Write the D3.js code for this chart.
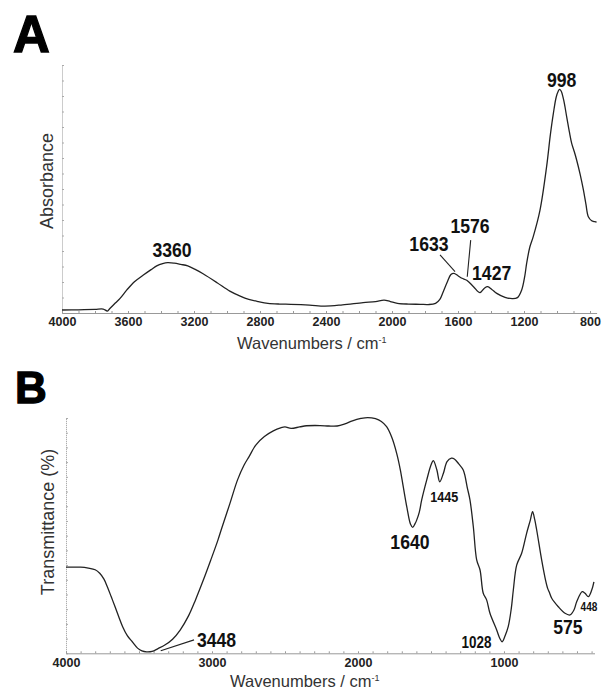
<!DOCTYPE html>
<html>
<head>
<meta charset="utf-8">
<script src="https://cdn.jsdelivr.net/npm/d3@7"></script>
<style>
  body { margin: 0; background: #fff; }
</style>
</head>
<body>
<svg id="chart" width="605" height="689"></svg>
<script>
// A: absorbance spectrum (wavenumber, relative absorbance)
const wnA = [4000, 3900, 3800, 3750, 3725, 3710, 3677, 3648, 3607, 3561, 3507, 3460, 3426, 3390, 3360,
  3320, 3280, 3238, 3190, 3145, 3060, 2983, 2920, 2868, 2810, 2752, 2680, 2614, 2500, 2406, 2300,
  2175, 2100, 2048, 2010, 1967, 1900, 1828, 1780, 1736, 1710, 1690, 1665, 1643, 1625, 1600, 1576,
  1547, 1506, 1467, 1440, 1420, 1395, 1365, 1315, 1270, 1240, 1214, 1195, 1184, 1165, 1144, 1103,
  1063, 1040, 1022, 1005, 992, 985, 975, 960, 941, 925, 911, 895, 881, 860, 840, 825, 810, 790, 770, 760];
const absA = [0.012, 0.013, 0.015, 0.016, 0.008, 0.018, 0.040, 0.059, 0.093, 0.126, 0.153, 0.175, 0.190, 0.199, 0.203,
  0.201, 0.196, 0.190, 0.175, 0.158, 0.122, 0.088, 0.068, 0.055, 0.046, 0.039, 0.036, 0.035, 0.032, 0.028, 0.033,
  0.042, 0.046, 0.052, 0.046, 0.039, 0.036, 0.035, 0.034, 0.039, 0.055, 0.085, 0.125, 0.155, 0.160, 0.150, 0.140,
  0.132, 0.106, 0.082, 0.100, 0.106, 0.095, 0.079, 0.063, 0.058, 0.062, 0.093, 0.150, 0.200, 0.265, 0.308, 0.415,
  0.590, 0.720, 0.805, 0.870, 0.895, 0.902, 0.895, 0.860, 0.790, 0.730, 0.684, 0.650, 0.617, 0.560, 0.496, 0.440, 0.388, 0.372, 0.368, 0.366];
const ticksA = [4000, 3600, 3200, 2800, 2400, 2000, 1600, 1200, 800];
const peaksA = ["3360", "1633", "1576", "1427", "998"];

// B: transmittance spectrum (wavenumber, relative transmittance)
const wnB = [4000, 3900, 3847, 3800, 3769, 3740, 3717, 3690, 3664, 3612, 3580, 3546, 3510, 3480, 3448,
  3410, 3370, 3323, 3270, 3218, 3160, 3113, 3060, 3008, 2960, 2930, 2877, 2825, 2780, 2746, 2700,
  2641, 2580, 2530, 2500, 2458, 2400, 2353, 2260, 2200, 2143, 2090, 2038, 1980, 1933, 1880, 1840,
  1804, 1770, 1735, 1710, 1690, 1665, 1640, 1625, 1610, 1598, 1580, 1564, 1529, 1500, 1484, 1460,
  1440, 1415, 1390, 1360, 1340, 1310, 1279, 1250, 1233, 1210, 1187, 1164, 1142, 1119, 1096, 1050,
  1030, 1012, 995, 971, 950, 936, 913, 879, 845, 820, 804, 790, 776, 742, 715, 701, 690, 673, 628,
  582, 548, 520, 502, 464, 445, 422, 399, 384];
const trB = [0.366, 0.366, 0.362, 0.355, 0.340, 0.315, 0.283, 0.240, 0.198, 0.113, 0.075, 0.049, 0.022, 0.010, 0.006,
  0.008, 0.020, 0.035, 0.060, 0.099, 0.160, 0.227, 0.310, 0.397, 0.480, 0.538, 0.637, 0.737, 0.800, 0.836, 0.885,
  0.921, 0.945, 0.958, 0.962, 0.956, 0.962, 0.967, 0.968, 0.966, 0.966, 0.975, 0.988, 0.998, 1.002, 0.997, 0.985,
  0.963, 0.920, 0.850, 0.780, 0.708, 0.620, 0.548, 0.535, 0.550, 0.566, 0.600, 0.651, 0.737, 0.800, 0.819, 0.780,
  0.729, 0.765, 0.815, 0.829, 0.826, 0.805, 0.779, 0.700, 0.652, 0.538, 0.397, 0.354, 0.255, 0.227, 0.170, 0.099,
  0.065, 0.049, 0.070, 0.113, 0.190, 0.269, 0.375, 0.425, 0.510, 0.565, 0.602, 0.570, 0.524, 0.397, 0.310, 0.276, 0.260, 0.234, 0.198,
  0.170, 0.163, 0.185, 0.219, 0.262, 0.255, 0.241, 0.269, 0.304];
const ticksB = [4000, 3000, 2000, 1000];
const peaksB = ["3448", "1640", "1445", "1028", "575", "448"];

const sans = "'Liberation Sans', Arial, sans-serif";
const svg = d3.select("#chart");

function drawPanel(p) {
  const x = d3.scaleLinear().domain(p.xDomain).range(p.xRange);
  const y = d3.scaleLinear().domain([0, 1]).range(p.yRange);
  const base = y(0);
  const g = svg.append("g");

  // panel letter
  g.append("text")
    .attr("x", p.letterX)
    .attr("y", p.letterY)
    .attr("font-family", sans)
    .attr("font-weight", "bold")
    .attr("font-size", p.letterSize)
    .attr("stroke", "#000")
    .attr("stroke-width", 1.3)
    .text(p.letter);

  // dotted y axis with small ticks, no labels
  const ya = g.append("g")
    .attr("transform", `translate(${p.xRange[0]},0)`)
    .call(d3.axisRight(y).tickValues(d3.range(0, 1.0001, 1 / 16)).tickSize(2).tickSizeOuter(0).tickFormat(""));
  ya.select(".domain").attr("stroke", "#999").attr("stroke-dasharray", "1,1");
  ya.selectAll(".tick line").attr("stroke", "#aaa");

  // x axis: minor ticks every 100
  const xm = g.append("g")
    .attr("transform", `translate(0,${base})`)
    .call(d3.axisBottom(x).tickValues(d3.range(p.xDomain[0], p.xDomain[1], -100)).tickSize(-2).tickSizeOuter(0).tickFormat(""));
  xm.select(".domain").attr("stroke", "#999");
  xm.selectAll(".tick line").attr("stroke", "#999");

  // x axis: labelled ticks
  const xa = g.append("g")
    .attr("transform", `translate(0,${base})`)
    .call(d3.axisBottom(x).tickValues(p.ticks).tickSize(0).tickPadding(p.tickPad).tickFormat(d3.format("d")));
  xa.select(".domain").remove();
  xa.attr("font-family", sans).attr("font-size", 12.5).attr("font-weight", "bold");
  xa.selectAll("text").attr("fill", "#222");

  // spectrum
  const line = d3.line()
    .x(d => x(d[0]))
    .y(d => y(d[1]))
    .curve(d3.curveCatmullRom.alpha(0.5));
  g.append("path")
    .datum(d3.zip(p.wn, p.val))
    .attr("fill", "none")
    .attr("stroke", "#222")
    .attr("stroke-width", 1.3)
    .attr("d", line);

  // leader lines
  g.selectAll("line.leader")
    .data(p.leaders)
    .join("line")
    .attr("class", "leader")
    .attr("x1", d => x(d[0])).attr("y1", d => y(d[1]))
    .attr("x2", d => x(d[2])).attr("y2", d => y(d[3]))
    .attr("stroke", "#222")
    .attr("stroke-width", 1.1);

  // peak labels (narrowed, the original uses a condensed face)
  g.selectAll("text.peak")
    .data(p.peaks)
    .join("text")
    .attr("class", "peak")
    .attr("transform", d => `translate(${x(p.notes[d].wn)},${y(p.notes[d].v)}) scale(0.84,1)`)
    .attr("text-anchor", d => p.notes[d].anchor || "middle")
    .attr("font-family", sans)
    .attr("font-weight", "bold")
    .attr("font-size", d => p.notes[d].size)
    .attr("fill", "#111")
    .text(d => d);

  // axis titles
  g.append("text")
    .attr("transform", `translate(${p.yLabelX},${p.yLabelY}) rotate(-90)`)
    .attr("text-anchor", "middle")
    .attr("font-family", sans)
    .attr("font-size", 18)
    .attr("fill", "#333")
    .text(p.yLabel);

  const xl = g.append("text")
    .attr("x", p.xLabelX)
    .attr("y", p.xLabelY)
    .attr("font-family", sans)
    .attr("font-size", 16.5)
    .attr("fill", "#333")
    .text("Wavenumbers / cm");
  xl.append("tspan")
    .attr("font-size", 9)
    .attr("dy", -6)
    .text("-1");
}

drawPanel({
  letter: "A", letterX: 13, letterY: 52, letterSize: 51,
  xDomain: [4000, 760], xRange: [62, 596.6], yRange: [313, 65],
  wn: wnA, val: absA, ticks: ticksA, tickPad: 4,
  peaks: peaksA,
  notes: {
    "3360": { wn: 3333, v: 0.226, size: 21 },
    "1633": { wn: 1776, v: 0.250, size: 21 },
    "1576": { wn: 1527, v: 0.323, size: 21 },
    "1427": { wn: 1396, v: 0.133, size: 21 },
    "998": { wn: 972, v: 0.911, size: 21 }
  },
  leaders: [[1709, 0.234, 1618, 0.167], [1523, 0.294, 1544, 0.146]],
  yLabel: "Absorbance", yLabelX: 53, yLabelY: 181,
  xLabelX: 237, xLabelY: 349
});

drawPanel({
  letter: "B", letterX: 15, letterY: 403, letterSize: 44,
  xDomain: [4000, 380], xRange: [66, 594.5], yRange: [653.3, 418],
  wn: wnB, val: trB, ticks: ticksB, tickPad: 5,
  peaks: peaksB,
  notes: {
    "3448": { wn: 3103, v: 0.028, size: 21, anchor: "start" },
    "1640": { wn: 1644, v: 0.443, size: 21 },
    "1445": { wn: 1409, v: 0.643, size: 15 },
    "1028": { wn: 1188, v: 0.023, size: 16 },
    "575": { wn: 562, v: 0.082, size: 21 },
    "448": { wn: 418, v: 0.180, size: 12 }
  },
  leaders: [[3351, 0.011, 3123, 0.057]],
  yLabel: "Transmittance (%)", yLabelX: 54, yLabelY: 522,
  xLabelX: 230, xLabelY: 687
});
</script>
</body>
</html>
